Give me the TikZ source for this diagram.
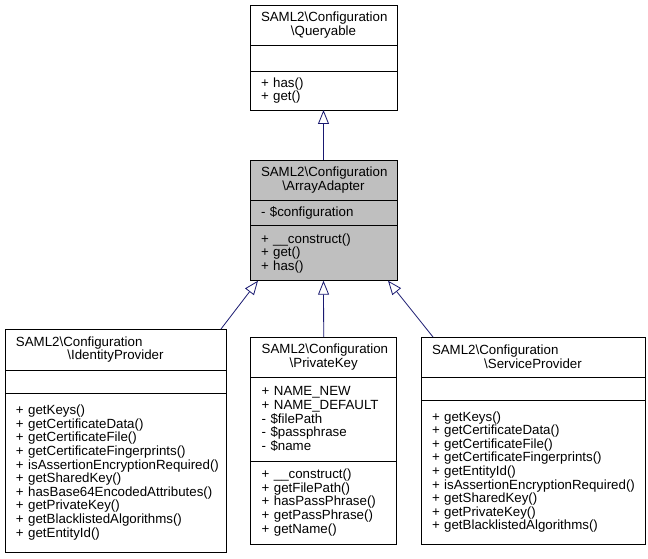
\documentclass[tikz,border=0pt]{standalone}
\usepackage{fontspec}
\setmainfont{Liberation Sans}
\usetikzlibrary{arrows.meta,positioning}
\definecolor{edgeblue}{HTML}{191970}
\definecolor{boxgray}{HTML}{BFBFBF}
\hfuzz=20pt
\tikzset{
  cpart/.style={draw, rectangle, outer sep=0pt, inner xsep=11pt, inner ysep=0pt,
    line width=0.8pt, align=left, text width=#1, font=\fontsize{13.3}{13.6}\selectfont},
  ctitle/.style={cpart=#1, align=center},
  inherit/.style={draw=edgeblue, line width=0.8pt, -{Triangle[open,length=14pt,width=11pt]}}
}

\begin{document}
\begin{tikzpicture}[x=1pt,y=-1pt,node distance=0pt]
   \useasboundingbox (0,0) rectangle (648,559);

   \node[ctitle=125pt, minimum height=40.7pt, anchor=north west] (qry_t) at (250,5)
      {SAML2\textbackslash Configuration\\\textbackslash Queryable};
   \node[cpart=125pt, minimum height=25.3pt] (qry_a) [below=of qry_t] {};
   \node[cpart=125pt, minimum height=39pt] (qry_m) [below=of qry_a] {+~has()\\+~get()};

   \node[ctitle=125pt, fill=boxgray, minimum height=40.7pt, anchor=north west] (arr_t) at (250,160)
      {SAML2\textbackslash Configuration\\\textbackslash ArrayAdapter};
   \node[cpart=125pt, fill=boxgray, minimum height=25pt] (arr_a) [below=of arr_t] {-~\$configuration};
   \node[cpart=125pt, fill=boxgray, minimum height=55pt] (arr_m) [below=of arr_a]
      {+~\_\_construct()\\+~get()\\+~has()};

   \node[ctitle=199pt, minimum height=41pt, anchor=north west] (idp_t) at (5,329)
      {\makebox[\linewidth][l]{SAML2\textbackslash Configuration}\\\textbackslash IdentityProvider};
   \node[cpart=199pt, minimum height=23pt] (idp_a) [below=of idp_t] {};
   \node[cpart=199pt, minimum height=159pt] (idp_m) [below=of idp_a]
      {+~getKeys()\\+~getCertificateData()\\+~getCertificateFile()\\+~getCertificateFingerprints()\\
       \mbox{+~isAssertionEncryptionRequired()}\\+~getSharedKey()\\+~hasBase64EncodedAttributes()\\
       +~getPrivateKey()\\+~getBlacklistedAlgorithms()\\+~getEntityId()};

   \node[ctitle=124pt, minimum height=40pt, anchor=north west] (pk_t) at (250.7,337)
      {SAML2\textbackslash Configuration\\\textbackslash PrivateKey};
   \node[cpart=124pt, minimum height=84pt] (pk_a) [below=of pk_t]
      {+~NAME\_NEW\\+~NAME\_DEFAULT\\-~\$filePath\\-~\$passphrase\\-~\$name};
   \node[cpart=124pt, minimum height=83pt] (pk_m) [below=of pk_a]
      {+~\_\_construct()\\+~getFilePath()\\+~hasPassPhrase()\\+~getPassPhrase()\\+~getName()};

   \node[ctitle=202pt, minimum height=40pt, anchor=north west] (sp_t) at (421,337)
      {\makebox[\linewidth][l]{SAML2\textbackslash Configuration}\\\textbackslash ServiceProvider};
   \node[cpart=202pt, minimum height=23pt] (sp_a) [below=of sp_t] {};
   \node[cpart=202pt, minimum height=144pt] (sp_m) [below=of sp_a]
      {+~getKeys()\\+~getCertificateData()\\+~getCertificateFile()\\+~getCertificateFingerprints()\\
       +~getEntityId()\\\mbox{+~isAssertionEncryptionRequired()}\\+~getSharedKey()\\
       +~getPrivateKey()\\+~getBlacklistedAlgorithms()};

   \draw[inherit] (arr_t.north) -- (qry_m.south);
   \draw[inherit] ([xshift=-5pt]idp_t.north east) -- ([xshift=8pt]arr_m.south west);
   \draw[inherit] (pk_t.north) -- (arr_m.south);
   \draw[inherit] ([xshift=12pt]sp_t.north west) -- ([xshift=-9pt]arr_m.south east);
\end{tikzpicture}
\end{document}
